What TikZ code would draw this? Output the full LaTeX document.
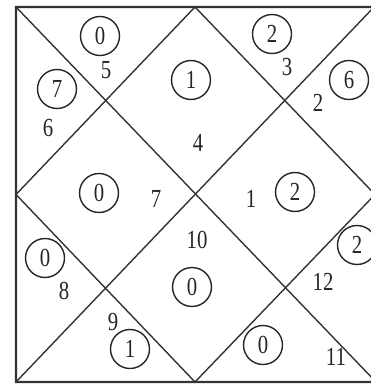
\documentclass[tikz,border=0pt]{standalone}
\usepackage{graphicx}
\usepackage{fontspec}
\setmainfont{Liberation Serif}
\newcommand{\dg}[1]{\scalebox{0.8}[1]{#1}}
\begin{document}
\begin{tikzpicture}[x=1pt,y=-1pt,
  lbl/.style={font=\fontsize{26}{26}\selectfont, inner sep=0pt, text=black!85},
  planet/.style={lbl, circle, draw=black!85, line width=1.4pt, minimum size=39pt},
  chartline/.style={line width=1.4pt, draw=black!80},
  border/.style={line width=2.2pt, draw=black!80}]
\useasboundingbox (0,0) rectangle (371,385);
\clip (0,0) rectangle (371,385);
% corners and midpoints
\coordinate (TL) at (16,7);
\coordinate (TR) at (374,7);
\coordinate (BL) at (16,382);
\coordinate (BR) at (376,382);
\coordinate (T) at (195,7);
\coordinate (B) at (195,382);
\coordinate (L) at (16,194.5);
\coordinate (R) at (375,194.5);
\draw[border] (TL) -- (TR) -- (BR) -- (BL) -- cycle;
\draw[chartline] (TL) -- (BR);
\draw[chartline] (TR) -- (BL);
\draw[chartline] (T) -- (R) -- (B) -- (L) -- cycle;
% house numbers
\node[lbl] (h1) at (251,199) {\dg{1}};
\node[lbl] (h2) at (318,103) {\dg{2}};
\node[lbl] (h3) at (287,67) {\dg{3}};
\node[lbl] (h4) at (198,143) {\dg{4}};
\node[lbl] (h5) at (106,70) {\dg{5}};
\node[lbl] (h6) at (48,128) {\dg{6}};
\node[lbl] (h7) at (156,199) {\dg{7}};
\node[lbl] (h8) at (64,291) {\dg{8}};
\node[lbl] (h9) at (113,322) {\dg{9}};
\node[lbl] (h10) at (197,240) {\dg{10}};
\node[lbl] (h11) at (336,357) {\dg{11}};
\node[lbl] (h12) at (323,282) {\dg{12}};
% circled values
\node[planet] (c1) at (295,192) {\dg{2}};
\node[planet] (c2) at (349,80) {\dg{6}};
\node[planet] (c3) at (272,34) {\dg{2}};
\node[planet] (c4) at (191,80) {\dg{1}};
\node[planet] (c5) at (100,36) {\dg{0}};
\node[planet] (c6) at (57,89) {\dg{7}};
\node[planet] (c7) at (99,193) {\dg{0}};
\node[planet] (c8) at (45,258) {\dg{0}};
\node[planet] (c9) at (130,349) {\dg{1}};
\node[planet] (c10) at (192,287) {\dg{0}};
\node[planet] (c11) at (263,345) {\dg{0}};
\node[planet] (c12) at (357,245) {\dg{2}};
\end{tikzpicture}
\end{document}
